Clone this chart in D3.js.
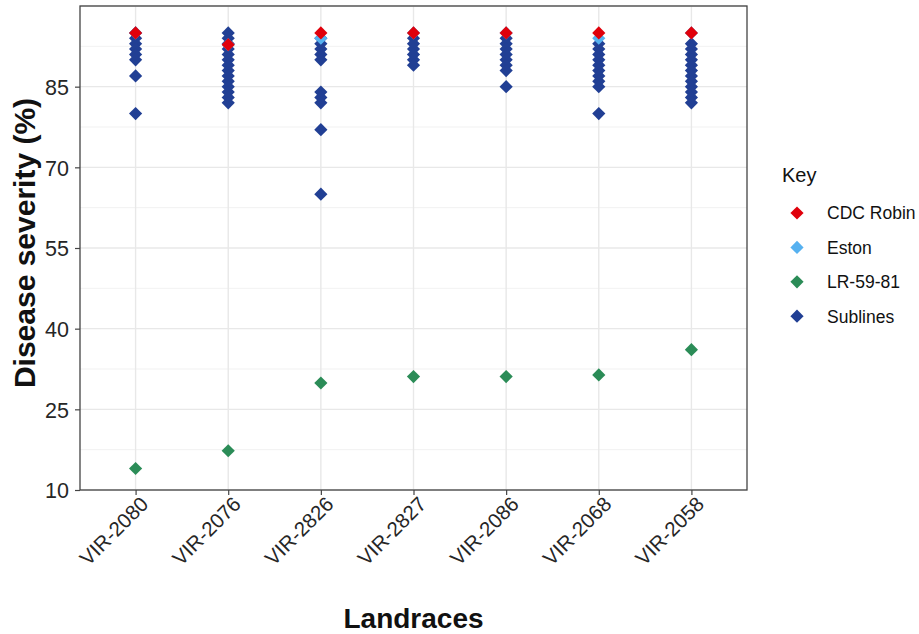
<!DOCTYPE html>
<html>
<head>
<meta charset="utf-8">
<script src="https://cdn.jsdelivr.net/npm/d3@7"></script>
<style>
  html, body { margin: 0; padding: 0; background: #fff; }
  svg { display: block; font-family: "Liberation Sans", Arial, Helvetica, sans-serif; }
</style>
</head>
<body>
<svg id="chart" width="919" height="634"></svg>
<script>
// Landraces on the x axis
const categories = ["VIR-2080", "VIR-2076", "VIR-2826", "VIR-2827", "VIR-2086", "VIR-2068", "VIR-2058"];

// Disease severity (%) of the checks, one value per landrace
const cdcRobin = [95, 92.8, 95, 95, 95, 95, 95];
const eston    = [95, 92.8, 94, 95, 95, 94, 95];
const lr5981   = [14, 17.3, 29.9, 31.1, 31.1, 31.4, 36.1];

// Disease severity (%) of the sublines of each landrace
const sublines = [
  [95, 94, 93, 92, 91, 90, 87, 80],
  [95, 94, 93, 92, 91, 90, 89, 88, 87, 86, 85, 84, 83, 82],
  [94, 93, 92, 91, 90, 84, 83, 82, 77, 65],
  [94, 93, 92, 91, 90, 89],
  [94, 93, 92, 91, 90, 89, 88, 85],
  [93, 92, 91, 90, 89, 88, 87, 86, 85, 80],
  [93, 92, 91, 90, 89, 88, 87, 86, 85, 84, 83, 82]
];

const yTicks = [10, 25, 40, 55, 70, 85, 100];
const yMinor = [17.5, 32.5, 47.5, 62.5, 77.5, 92.5];

const keyNames  = ["CDC Robin", "Eston", "LR-59-81", "Sublines"];
const keyColors = ["#e0000b", "#56b1f0", "#2b8c57", "#213f94"];

const svg = d3.select("#chart");
const panel = { left: 80, right: 747, top: 6, bottom: 490 };

const x = d3.scalePoint().domain(categories).range([panel.left, panel.right]).padding(0.6);
const y = d3.scaleLinear().domain([10, 100]).range([panel.bottom, panel.top]);
const color = d3.scaleOrdinal().domain(keyNames).range(keyColors);

// diamond marker
const R = 6.6;
const diamond = `M0,${-R}L${R},0L0,${R}L${-R},0Z`;

// grid
const grid = svg.append("g");
grid.selectAll(".minor").data(yMinor).join("line")
  .attr("x1", panel.left).attr("x2", panel.right)
  .attr("y1", d => y(d)).attr("y2", d => y(d))
  .attr("stroke", "#ededed").attr("stroke-width", 0.8);
grid.selectAll(".major").data(yTicks).join("line")
  .attr("x1", panel.left).attr("x2", panel.right)
  .attr("y1", d => y(d)).attr("y2", d => y(d))
  .attr("stroke", "#e8e8e8").attr("stroke-width", 1.4);
grid.selectAll(".vmajor").data(categories).join("line")
  .attr("x1", d => x(d)).attr("x2", d => x(d))
  .attr("y1", panel.top).attr("y2", panel.bottom)
  .attr("stroke", "#e8e8e8").attr("stroke-width", 1.4);

// points: sublines first, then the checks on top
const pts = [];
categories.forEach((c, i) => {
  sublines[i].forEach(v => pts.push({ c, v, k: "Sublines" }));
});
categories.forEach((c, i) => pts.push({ c, v: lr5981[i], k: "LR-59-81" }));
categories.forEach((c, i) => pts.push({ c, v: eston[i], k: "Eston" }));
categories.forEach((c, i) => pts.push({ c, v: cdcRobin[i], k: "CDC Robin" }));

svg.append("g").selectAll("path").data(pts).join("path")
  .attr("d", diamond)
  .attr("transform", d => `translate(${x(d.c)},${y(d.v)})`)
  .attr("fill", d => color(d.k));

// panel border
svg.append("rect")
  .attr("x", panel.left).attr("y", panel.top)
  .attr("width", panel.right - panel.left).attr("height", panel.bottom - panel.top)
  .attr("fill", "none").attr("stroke", "#444").attr("stroke-width", 1.3);

// y axis
const yAxis = svg.append("g")
  .attr("transform", `translate(${panel.left},0)`)
  .call(d3.axisLeft(y).tickValues(yTicks.filter(t => t < 100)).tickSize(5).tickPadding(6).tickFormat(d3.format("d")));
yAxis.select(".domain").remove();
yAxis.selectAll(".tick line").attr("stroke", "#444").attr("stroke-width", 1.2);
yAxis.selectAll(".tick text").attr("fill", "#262626").style("font-size", "21.5px")
  .attr("dy", "0.36em");

// x axis
const xAxis = svg.append("g")
  .attr("transform", `translate(0,${panel.bottom})`)
  .call(d3.axisBottom(x).tickSize(5).tickPadding(0));
xAxis.select(".domain").remove();
xAxis.selectAll(".tick line").attr("stroke", "#444").attr("stroke-width", 1.2);
xAxis.selectAll(".tick text")
  .attr("fill", "#262626").style("font-size", "20.5px")
  .attr("text-anchor", "end")
  .attr("transform", "translate(3,5) rotate(-45)")
  .attr("x", 0).attr("y", 0).attr("dy", "0.72em");

// axis titles
svg.append("text")
  .attr("x", (panel.left + panel.right) / 2).attr("y", 628)
  .attr("text-anchor", "middle")
  .style("font-size", "28px").style("font-weight", "bold").attr("fill", "#111")
  .text("Landraces");

svg.append("text")
  .attr("transform", `translate(35,243) rotate(-90)`)
  .attr("text-anchor", "middle")
  .style("font-size", "30px").style("font-weight", "bold").attr("fill", "#111")
  .text("Disease severity (%)");

// legend
const legend = svg.append("g");
legend.append("text").attr("x", 782).attr("y", 182)
  .style("font-size", "20px").attr("fill", "#111").text("Key");
const items = legend.selectAll(".item").data(keyNames).join("g")
  .attr("transform", (d, i) => `translate(797,${213 + i * 34.4})`);
items.append("path").attr("d", diamond).attr("fill", d => color(d));
items.append("text").attr("x", 30).attr("dy", "0.36em")
  .style("font-size", "17.5px").attr("fill", "#111").text(d => d);
</script>
</body>
</html>
